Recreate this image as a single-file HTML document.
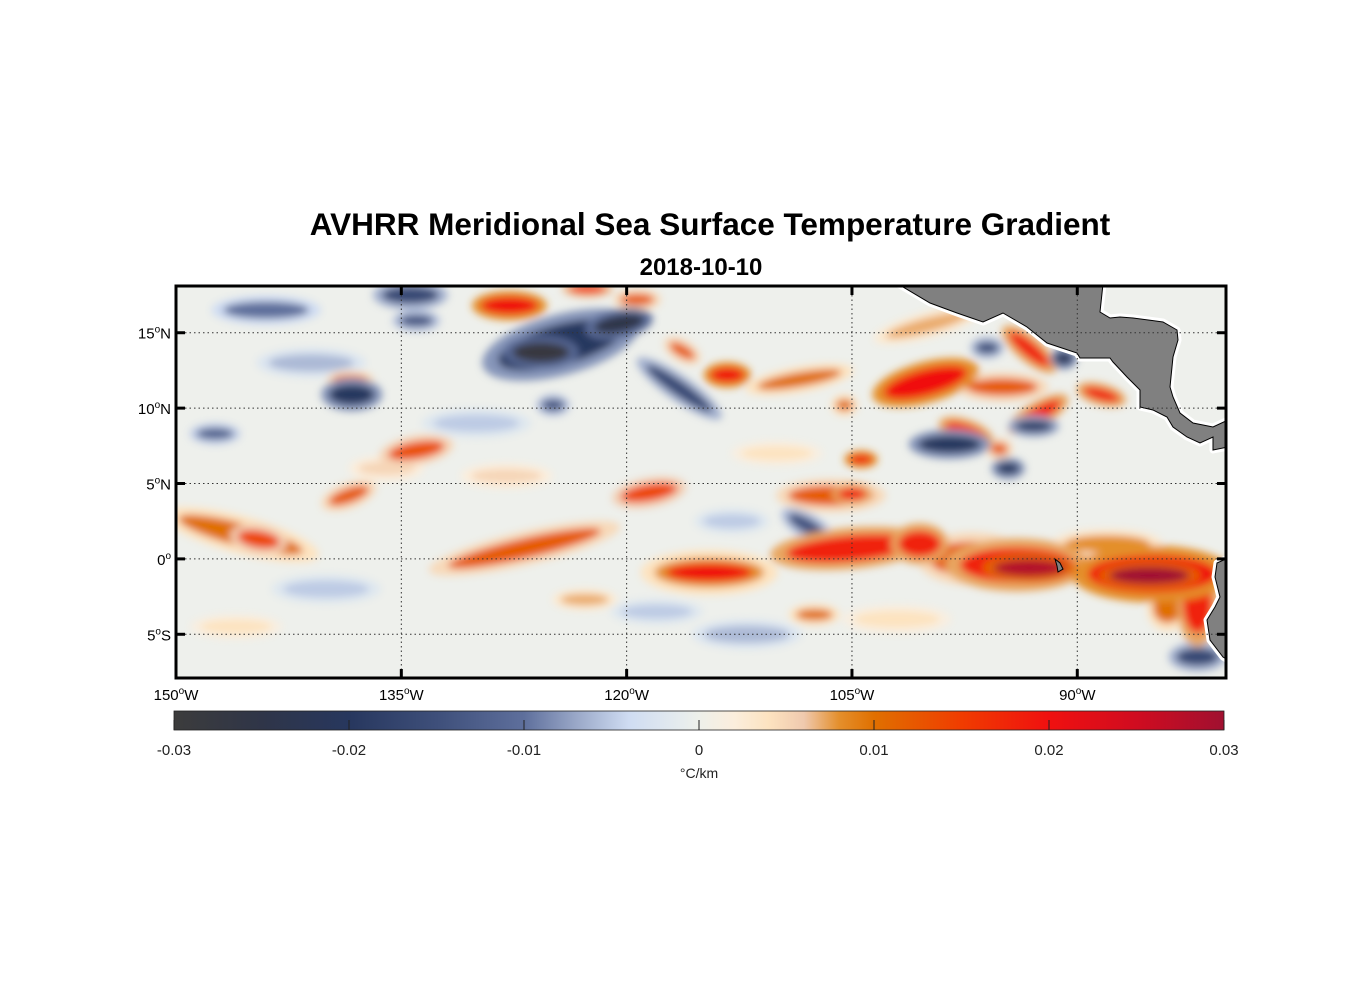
<!DOCTYPE html>
<html><head><meta charset="utf-8"><style>
body{margin:0;background:#fff;}
svg{display:block;font-family:"Liberation Sans",Arial,sans-serif;}
</style></head><body>
<svg id="chart" width="1356" height="1000" viewBox="0 0 1356 1000">
<defs>
<filter id="blur" x="-50%" y="-50%" width="200%" height="200%"><feGaussianBlur stdDeviation="4"/></filter>
<clipPath id="clip"><rect x="176" y="286" width="1050" height="392"/></clipPath>
<linearGradient id="cbgrad" x1="0" x2="1" y1="0" y2="0"></linearGradient>
</defs>
<text x="710" y="235" text-anchor="middle" font-size="31.5" font-weight="bold">AVHRR Meridional Sea Surface Temperature Gradient</text>
<text x="701" y="275" text-anchor="middle" font-size="24" font-weight="bold">2018-10-10</text>
<g clip-path="url(#clip)">
<rect x="176" y="286" width="1050" height="392" fill="#eef0ec"/>
<g id="blobs" filter="url(#blur)"></g>
<g id="land"></g>
</g>
<g id="grid"></g>
<rect x="176" y="286" width="1050" height="392" fill="none" stroke="#000" stroke-width="3"/>
<g id="ticks"></g>
<g id="colorbar"></g>
</svg>
<script>
const NS='http://www.w3.org/2000/svg';
// Map extent
const lonMin=-150, lonMax=-80.1, latMin=-7.9, latMax=18.1;
// Feature data: lon, lat, value (°C/km), half-extent lon/lat (deg), rotation (deg)
const featLon=[-105.1,-100.5,-97,-94,-93.2,-85,-85.2,-82,-84,-88,-114.5,-114.5,-126.8,-118.5,-145.7,-144.5,-138.5,-134,-138.3,-138.4,-147.4,-124.4,-125.7,-120.5,-116.5,-127.8,-123.8,-119.3,-122.6,-134.4,-144,-113.3,-116.3,-108.5,-100.1,-95,-93.2,-90.9,-88.4,-92.6,-97.4,-95.2,-98.5,-92.9,-94.6,-104.4,-106.4,-105,-108,-107.5,-122.8,-82,-105.5,-96,-100,-124.9,-134,-141,-130,-112,-102,-110,-118,-140,-128,-146,-113,-136];
const featLat=[0.7,1.0,0.0,-0.4,-0.6,-1.0,-1.1,-3.0,-3.3,1.0,-0.9,-0.9,0.7,4.4,1.6,1.3,4.2,7.2,10.9,11.9,8.3,14.2,13.7,15.6,11.3,16.8,15.3,17.2,17.9,17.5,16.5,12.2,13.8,11.9,11.7,11.4,13.9,13.3,10.9,9.6,8.4,7.3,7.6,8.8,6.0,6.6,4.2,4.3,2.2,-3.7,-2.7,-6.5,10.2,14.0,15.5,10.2,15.8,13.0,9.0,-5.0,-4.0,7.0,-3.5,-2.0,5.5,-4.5,2.5,6.0];
const featVal=[0.018,0.018,0.012,0.018,0.028,0.02,0.03,0.018,0.01,0.008,0.01,0.02,0.012,0.014,0.01,0.014,0.012,0.013,-0.02,0.012,-0.012,-0.02,-0.028,-0.025,-0.016,0.02,0.018,0.012,0.016,-0.016,-0.01,0.02,0.012,0.01,0.02,0.012,0.018,-0.022,0.018,0.018,0.018,0.012,-0.02,-0.018,-0.02,0.02,0.012,0.018,-0.014,0.01,0.007,-0.016,0.01,-0.015,0.007,-0.014,-0.014,-0.006,-0.005,-0.006,0.004,0.004,-0.005,-0.005,0.005,0.004,-0.005,0.005];
const featRx=[4.5,1.5,3,4,2.5,4.5,2.8,1,1,3,3.8,3,5.5,2,4.5,1.5,1.5,2,1.6,1.2,1.3,4.5,2,1.8,2.8,2,2,1.2,1.3,2,3,1.2,1,3,3,2.5,1.8,0.6,1.3,1.8,1.5,0.6,2.2,1.3,0.8,0.8,3,1,1.5,1.3,1.7,1.5,0.6,0.8,3,0.8,1.2,3,3,3,3,2.5,2.5,3,2.5,2.5,2,2];
const featRy=[0.9,0.9,1.2,1.2,0.6,1.3,0.6,2,1,0.6,1,0.6,0.7,0.6,0.8,0.6,0.5,0.6,0.7,0.3,0.4,1.4,0.7,0.6,0.5,0.6,0.5,0.4,0.3,0.6,0.6,0.5,0.4,0.5,0.9,0.6,0.5,0.4,0.4,0.5,0.5,0.4,0.6,0.4,0.4,0.3,0.7,0.4,0.5,0.4,0.4,0.6,0.4,0.4,0.5,0.4,0.4,0.6,0.6,0.6,0.6,0.5,0.5,0.6,0.5,0.5,0.5,0.5];
const featRot=[-5,0,0,0,0,0,0,0,0,0,0,0,-13,-10,15,10,-20,-10,0,0,0,-15,0,-10,35,0,-10,0,0,0,0,0,30,-10,-15,0,40,0,15,-30,20,0,0,0,0,0,0,0,30,0,0,0,0,0,-15,0,0,0,0,0,0,0,0,0,0,0,0,0];
// Colormap
const cmapVal=[-0.03,-0.025,-0.02,-0.015,-0.01,-0.007,-0.004,-0.001,0,0.002,0.004,0.006,0.008,0.01,0.015,0.02,0.025,0.03];
const cmapCol=['#3c3c3c','#2f3548','#27375e','#3e4f7a','#5e6f9c','#9aa8c8','#cfdcf2','#e6ecee','#eef0ea','#fbeedd','#fde3c0','#efc9ae','#e48f2c','#e07000','#f03c00','#f01010','#d00c20','#a01030'];
// Axes ticks
const latTicks=[15,10,5,0,-5];
const latLabels=['15','10','5','0','5'];
const latSuffix=['N','N','N','',"S"];
const lonTicks=[-150,-135,-120,-105,-90];
const lonLabels=['150','135','120','105','90'];
const cbTicks=[-0.03,-0.02,-0.01,0,0.01,0.02,0.03];
const cbLabels=['-0.03','-0.02','-0.01','0','0.01','0.02','0.03'];

const X0=176,X1=1226,Y0=286,Y1=678;
const xS=lon=>X0+(lon-lonMin)/(lonMax-lonMin)*(X1-X0);
const yS=lat=>Y1-(lat-latMin)/(latMax-latMin)*(Y1-Y0);
const pxLon=(X1-X0)/(lonMax-lonMin), pxLat=(Y1-Y0)/(latMax-latMin);
function hex(c){return [1,3,5].map(i=>parseInt(c.substr(i,2),16));}
function color(v){
  if(v<=cmapVal[0])return cmapCol[0];
  for(let i=1;i<cmapVal.length;i++){
    if(v<=cmapVal[i]){const t=(v-cmapVal[i-1])/(cmapVal[i]-cmapVal[i-1]);
      const a=hex(cmapCol[i-1]),b=hex(cmapCol[i]);
      return 'rgb('+a.map((x,k)=>Math.round(x+(b[k]-x)*t)).join(',')+')';}
  }
  return cmapCol[cmapCol.length-1];
}
function mk(tag,attrs,parent){const e=document.createElementNS(NS,tag);for(const k in attrs)e.setAttribute(k,attrs[k]);parent.appendChild(e);return e;}

const blobs=document.getElementById('blobs');
const order=featVal.map((v,i)=>i).sort((a,b)=>Math.abs(featVal[a])-Math.abs(featVal[b]));
order.forEach(i=>{
  const cx=xS(featLon[i]),cy=yS(featLat[i]);
  const g=mk('g',{transform:`rotate(${featRot[i]} ${cx} ${cy})`},blobs);
  
  
  mk('ellipse',{cx,cy,rx:featRx[i]*pxLon*1.15+3,ry:featRy[i]*pxLat*1.3+3,fill:color(featVal[i]*0.4)},g);
  mk('ellipse',{cx,cy,rx:featRx[i]*pxLon*0.95,ry:featRy[i]*pxLat*0.95,fill:color(featVal[i])},g);
});

const land=document.getElementById('land');
const ca="M898,284 L1103,284 L1100,312 L1110,318 L1120,317 L1133,318 L1163,322 L1177,330 L1178,340 L1173,357 L1170,387 L1173,397 L1180,413 L1193,423 L1213,427 L1228,420 L1228,447 L1213,450 L1213,437 L1200,443 L1187,437 L1173,427 L1167,417 L1153,410 L1140,407 L1140,390 L1127,377 L1113,362 L1110,358 L1080,358 L1077,353 L1047,343 L1027,327 L1003,313 L983,322 L957,313 L930,303 Z";
const sa="M1228,558 L1217,563 L1215,577 L1220,597 L1215,607 L1207,620 L1210,640 L1223,657 L1228,660 Z";
const isl="M1055,559 L1060,563 L1063,569 L1058,572 L1057,566 Z";
[ca,sa].forEach((d,k)=>{
  const h=mk('path',{d,fill:'#fff',stroke:'#fff','stroke-width':7,'stroke-linejoin':'round'},land);
  
  
});
[ca,sa,isl].forEach((d,k)=>{
  const p=mk('path',{d,fill:'#808080',stroke:'#000','stroke-width':1},land);
  
  
});

const grid=document.getElementById('grid');
latTicks.forEach(l=>{const y=yS(l);
  const e=mk('line',{x1:X0,x2:X1,y1:y,y2:y,stroke:'#333','stroke-width':1,'stroke-dasharray':'1.5,3'},grid);
  
  });
lonTicks.slice(1).forEach(l=>{const x=xS(l);
  const e=mk('line',{x1:x,x2:x,y1:Y0,y2:Y1,stroke:'#333','stroke-width':1,'stroke-dasharray':'1.5,3'},grid);
  
  });

const tk=document.getElementById('ticks');
latTicks.forEach((l,i)=>{const y=yS(l);
  [[X0,X0+9],[X1-9,X1]].forEach(([a,b])=>{const e=mk('line',{x1:a,x2:b,y1:y,y2:y,stroke:'#000','stroke-width':3},tk);
    
    });
  const t=mk('text',{x:171,y:y+6,'text-anchor':'end','font-size':15},tk);
  
  
  t.innerHTML=latLabels[i]+'<tspan dy="-6" font-size="10">o</tspan><tspan dy="6">'+latSuffix[i]+'</tspan>';
});
lonTicks.forEach((l,i)=>{const x=xS(l);
  [[Y0,Y0+9],[Y1-9,Y1]].forEach(([a,b])=>{const e=mk('line',{x1:x,x2:x,y1:a,y2:b,stroke:'#000','stroke-width':3},tk);
    
    });
  const t=mk('text',{x:x,y:700,'text-anchor':'middle','font-size':15},tk);
  
  
  t.innerHTML=lonLabels[i]+'<tspan dy="-6" font-size="10">o</tspan><tspan dy="6">W</tspan>';
});

const grad=document.getElementById('cbgrad');
cmapVal.forEach((v,i)=>mk('stop',{offset:(v+0.03)/0.06,'stop-color':cmapCol[i]},grad));
const cb=document.getElementById('colorbar');
const CB0=174,CB1=1224;
const cbx=v=>CB0+(v+0.03)/0.06*(CB1-CB0);
const r=mk('rect',{x:CB0,y:711,width:CB1-CB0,height:19,fill:'url(#cbgrad)',stroke:'#222','stroke-width':0.8},cb);


cbTicks.forEach((v,i)=>{const x=cbx(v);
  const e=mk('line',{x1:x,x2:x,y1:720,y2:730,stroke:'#222','stroke-width':1},cb);
  
  
  const t=mk('text',{x:x,y:755,'text-anchor':'middle','font-size':15,fill:'#222'},cb);
  
  
  t.textContent=cbLabels[i];
});
const u=mk('text',{x:699,y:778,'text-anchor':'middle','font-size':14,fill:'#222'},cb);


u.textContent='°C/km';
</script>
</body></html>
